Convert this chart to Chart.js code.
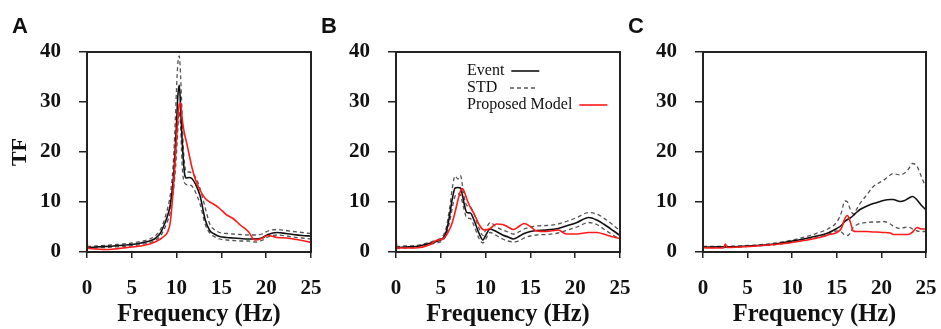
<!DOCTYPE html>
<html>
<head>
<meta charset="utf-8">
<script src="https://cdn.jsdelivr.net/npm/chart.js@4.4.1/dist/chart.umd.min.js"></script>
<style>
  html, body { margin: 0; padding: 0; background: #fff; }
  body { width: 941px; height: 329px; position: relative; overflow: hidden; }
  .panel { position: absolute; top: 0; height: 329px; }
</style>
</head>
<body>
<div class="panel" style="left:0;width:326px"><canvas id="chartA"></canvas></div>
<div class="panel" style="left:312px;width:323px"><canvas id="chartB"></canvas></div>
<div class="panel" style="left:620px;width:321px"><canvas id="chartC"></canvas></div>
<script>
// --- data (frequency in Hz, TF) ---
const xTicks = [0, 5, 10, 15, 20, 25];
const yTicks = [0, 10, 20, 30, 40];
const seriesNames = ["Event", "STD", "Proposed Model"];

// panel A
const freqA = [0, 0.1, 1, 2, 3, 4, 5, 6, 7, 7.6, 8.2, 8.7, 9.0, 9.3, 9.6, 9.8, 10.0, 10.15, 10.3, 10.45, 10.6, 10.75, 10.9, 11.1, 11.4, 11.7, 12.1, 12.6, 13.2, 13.7, 14.2, 14.8, 15.6, 16.3, 17.1, 18.0, 18.75, 19.5, 20.2, 21.2, 22.2, 23.0, 24.0, 25];
const eventA = [0.9, 0.9, 1.0, 1.1, 1.2, 1.35, 1.5, 1.8, 2.2, 2.7, 3.8, 5.8, 7.3, 9.5, 14, 19, 26, 31.5, 33.4, 29, 23, 18.5, 15.5, 14.8, 14.9, 14.7, 13.6, 11.4, 6.4, 4.3, 3.6, 3.1, 2.9, 2.8, 2.7, 2.6, 2.6, 2.8, 3.5, 3.9, 3.7, 3.5, 3.3, 3.2];
const stdUpA = [1.1, 1.1, 1.2, 1.3, 1.45, 1.6, 1.8, 2.1, 2.6, 3.2, 4.5, 6.8, 8.8, 11.5, 17, 24, 33, 38, 39.2, 35, 28, 21, 17.5, 16, 16, 15.8, 15, 12.8, 8.8, 5.6, 4.5, 3.9, 3.7, 3.6, 3.5, 3.4, 3.4, 3.6, 4.2, 4.5, 4.3, 4.1, 3.9, 3.7];
const stdLoA = [0.7, 0.7, 0.8, 0.9, 1.0, 1.1, 1.25, 1.5, 1.9, 2.3, 3.2, 4.9, 6.2, 8, 11.5, 15, 20, 25, 28, 25, 18, 14.7, 13.8, 13.5, 13.4, 13.2, 12, 9.7, 5.5, 3.8, 3.1, 2.6, 2.4, 2.3, 2.2, 2.2, 2.0, 2.3, 3.0, 3.4, 3.2, 3.0, 2.8, 2.6];
const modelA = [2.0, 0.8, 0.6, 0.5, 0.6, 0.8, 1.0, 1.2, 1.6, 2.0, 2.6, 3.3, 4.0, 6, 12, 17, 23, 27, 29.5, 29.8, 27, 25, 23.5, 22, 19.5, 17, 14.5, 12.4, 10.7, 10.0, 9.5, 8.7, 7.4, 6.7, 5.4, 4.1, 2.4, 2.7, 3.3, 2.9, 2.8, 2.6, 2.3, 1.9];

// panel B
const freqB = [0, 0.1, 1, 2.2, 3.7, 4.5, 5.2, 5.6, 6.0, 6.3, 6.6, 6.9, 7.2, 7.4, 7.6, 7.9, 8.3, 8.7, 9.3, 9.7, 10.0, 10.5, 11.2, 11.9, 12.5, 13.1, 13.8, 14.3, 15.0, 15.7, 16.8, 18.1, 19.0, 20.2, 21.5, 22.4, 23.5, 24.3, 25];
const eventB = [0.9, 0.9, 1.0, 1.1, 1.7, 2.1, 2.7, 4.0, 7.5, 10.8, 12.8, 12.9, 12.8, 11.5, 9.7, 7.9, 7.8, 6.4, 3.6, 2.4, 3.3, 4.6, 4.1, 3.4, 3.0, 2.6, 3.2, 3.7, 4.1, 4.3, 4.4, 4.7, 5.2, 5.9, 6.9, 6.4, 5.2, 4.2, 3.3];
const stdUpB = [1.1, 1.1, 1.2, 1.3, 1.9, 2.4, 3.1, 4.8, 9, 13, 15.2, 14.6, 15.3, 13.5, 11, 9.3, 9.0, 7.6, 4.6, 3.3, 4.4, 5.9, 5.0, 4.4, 4.0, 3.6, 4.1, 4.6, 5.0, 5.2, 5.3, 5.6, 6.1, 6.9, 7.9, 7.6, 6.4, 5.3, 4.2];
const stdLoB = [0.7, 0.7, 0.8, 0.9, 1.5, 1.8, 2.3, 3.4, 6.2, 9, 11.2, 11.6, 11.4, 10, 8.5, 6.8, 6.7, 5.3, 2.6, 1.8, 2.5, 3.9, 3.3, 2.6, 2.2, 2.0, 2.3, 2.8, 3.2, 3.4, 3.5, 3.8, 4.3, 5.0, 5.9, 5.5, 4.2, 3.3, 2.6];
const modelB = [3.4, 0.8, 0.8, 0.8, 1.4, 2.3, 2.6, 3.3, 4.6, 6.0, 8.0, 10.3, 12.2, 12.7, 12.2, 10.6, 8.9, 7.7, 5.4, 4.5, 4.4, 4.7, 5.6, 5.5, 5.0, 4.5, 5.2, 5.7, 5.1, 4.2, 4.1, 4.4, 3.6, 3.6, 3.9, 3.9, 3.4, 3.0, 2.7];

// panel C
const freqC = [0, 0.1, 1, 2.3, 2.5, 2.7, 4, 6, 8, 10, 11, 12, 13, 13.5, 14, 15, 15.5, 15.9, 16.2, 16.5, 16.85, 17.2, 17.6, 18.4, 19.1, 19.5, 20.2, 21.0, 21.3, 22.1, 22.6, 23.0, 23.5, 24.0, 24.5, 25];
const eventC = [1.0, 1.0, 1.0, 1.05, 1.05, 1.05, 1.1, 1.3, 1.6, 2.2, 2.5, 2.9, 3.3, 3.5, 3.8, 4.7, 5.3, 6.1, 6.5, 6.8, 7.3, 7.9, 8.5, 9.2, 9.7, 9.9, 10.3, 10.5, 10.5, 10.1, 10.3, 10.7, 11.1, 10.4, 9.3, 8.4];
const stdUpC = [1.1, 1.1, 1.1, 1.15, 1.15, 1.15, 1.2, 1.4, 1.75, 2.4, 2.8, 3.3, 3.9, 4.2, 4.6, 6.0, 7.8, 10.2, 10.0, 8.6, 7.6, 8.5, 9.7, 11.5, 13.1, 13.6, 14.3, 15.4, 15.7, 15.4, 15.8, 16.5, 17.7, 17.1, 15, 12.8];
const stdLoC = [0.9, 0.9, 0.9, 0.95, 0.95, 0.95, 1.0, 1.2, 1.45, 2.0, 2.3, 2.6, 3.0, 3.2, 3.5, 4.2, 4.0, 3.4, 3.3, 3.8, 5.0, 5.4, 5.7, 5.9, 6.0, 6.0, 6.1, 5.6, 5.2, 4.7, 4.9, 5.0, 4.6, 4.2, 4.1, 4.1];
const modelC = [1.5, 0.9, 0.8, 0.8, 1.6, 0.9, 1.0, 1.2, 1.5, 1.9, 2.2, 2.5, 2.9, 3.1, 3.4, 3.9, 4.7, 6.7, 7.3, 6.1, 4.2, 4.1, 4.1, 4.1, 4.0, 4.0, 3.9, 3.8, 3.5, 3.5, 3.5, 3.5, 4.0, 4.9, 4.6, 4.6];

// --- helpers ---
const serif = '"Liberation Serif", "Times New Roman", serif';

function pts(freq, vals) {
  return freq.map((f, i) => ({ x: f, y: vals[i] }));
}

// black box round the plot
const framePlugin = {
  id: 'frame',
  afterDraw(chart) {
    const { ctx, chartArea: a } = chart;
    ctx.save();
    ctx.strokeStyle = '#222';
    ctx.lineWidth = 2;
    ctx.strokeRect(a.left, a.top, a.right - a.left, a.bottom - a.top);
    ctx.restore();
  }
};

// panel letter A / B / C
const letterPlugin = {
  id: 'letter',
  afterDraw(chart, args, opts) {
    const { ctx, chartArea: a } = chart;
    ctx.save();
    ctx.font = 'bold 22px "Liberation Sans", Arial, sans-serif';
    ctx.fillStyle = '#111';
    ctx.textBaseline = 'alphabetic';
    ctx.fillText(opts.text, a.left - 75, 33);
    ctx.restore();
  }
};

// legend: label first, line sample after it
const legendPlugin = {
  id: 'legendLines',
  afterDraw(chart, args, opts) {
    if (!opts.show) return;
    const { ctx, chartArea: a } = chart;
    ctx.save();
    ctx.font = '16px ' + serif;
    ctx.textBaseline = 'middle';
    const seen = [];
    chart.data.datasets.forEach(ds => {
      if (seen.includes(ds.label)) return;
      const y = a.top + 19 + seen.length * 17;
      const x = a.left + 71;
      seen.push(ds.label);
      ctx.fillStyle = '#111';
      ctx.fillText(ds.label, x, y);
      const sx = Math.max(x + ctx.measureText(ds.label).width + 7, x + 43);
      ctx.beginPath();
      ctx.setLineDash(ds.borderDash || []);
      ctx.strokeStyle = ds.borderColor;
      ctx.lineWidth = ds.borderWidth;
      ctx.moveTo(sx, y);
      ctx.lineTo(sx + 28, y);
      ctx.stroke();
    });
    ctx.restore();
  }
};

function makePanel(id, letter, freq, ev, up, lo, model, yWidth, showTF, showLegend) {
  const line = { pointRadius: 0, fill: false, cubicInterpolationMode: 'monotone' };
  const datasets = [
    Object.assign({ label: seriesNames[0], data: pts(freq, ev), borderColor: '#111', borderWidth: 1.6, order: 1 }, line),
    Object.assign({ label: seriesNames[1], data: pts(freq, up), borderColor: '#555', borderWidth: 1.3, borderDash: [4, 3], order: 2 }, line),
    Object.assign({ label: seriesNames[1], data: pts(freq, lo), borderColor: '#555', borderWidth: 1.3, borderDash: [4, 3], order: 2 }, line),
    Object.assign({ label: seriesNames[2], data: pts(freq, model), borderColor: '#ff1a1a', borderWidth: 1.6, order: 0 }, line)
  ];

  new Chart(document.getElementById(id), {
    type: 'line',
    data: { datasets },
    options: {
      responsive: true,
      maintainAspectRatio: false,
      animation: false,
      layout: { padding: { top: 52, left: 0, right: 15, bottom: 0 } },
      plugins: {
        legend: { display: false },
        tooltip: { enabled: false },
        letter: { text: letter },
        legendLines: { show: showLegend }
      },
      scales: {
        x: {
          type: 'linear',
          min: xTicks[0],
          max: xTicks[xTicks.length - 1],
          afterBuildTicks: s => { s.ticks = xTicks.map(v => ({ value: v })); },
          afterFit: s => { s.height = 77; s.paddingLeft = 0; s.paddingRight = 0; },
          border: { color: '#222', width: 2 },
          grid: { drawOnChartArea: false, drawTicks: true, tickLength: 6, color: '#222', lineWidth: 1.5 },
          ticks: { color: '#111', padding: 18, maxRotation: 0, font: { family: serif, size: 21, weight: 'bold' } },
          title: {
            display: true,
            text: 'Frequency (Hz)',
            color: '#111',
            padding: { top: 0, bottom: 0 },
            font: { family: serif, size: 24.5, weight: 'bold' }
          }
        },
        y: {
          min: yTicks[0],
          max: yTicks[yTicks.length - 1],
          afterBuildTicks: s => { s.ticks = yTicks.map(v => ({ value: v })); },
          afterFit: s => { s.width = yWidth; },
          border: { color: '#222', width: 2 },
          grid: { drawOnChartArea: false, drawTicks: true, tickLength: 8, color: '#222', lineWidth: 1.5 },
          ticks: { color: '#111', padding: 18, font: { family: serif, size: 21, weight: 'bold' } },
          title: {
            display: showTF,
            text: 'TF',
            color: '#111',
            padding: { top: 7, bottom: 0 },
            font: { family: serif, size: 22, weight: 'bold' }
          }
        }
      }
    },
    plugins: [framePlugin, letterPlugin, legendPlugin]
  });
}

makePanel('chartA', 'A', freqA, eventA, stdUpA, stdLoA, modelA, 87, true, false);
makePanel('chartB', 'B', freqB, eventB, stdUpB, stdLoB, modelB, 84, false, true);
makePanel('chartC', 'C', freqC, eventC, stdUpC, stdLoC, modelC, 83, false, false);
</script>
</body>
</html>
